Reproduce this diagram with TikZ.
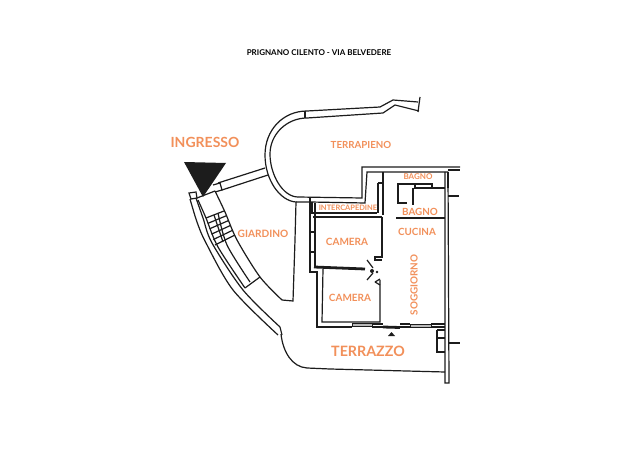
\documentclass[tikz,border=0pt]{standalone}
\usepackage{fontspec}
\setmainfont{Lato}
\definecolor{labelorange}{HTML}{F2905A}
\definecolor{walldark}{HTML}{1C1C1C}
\tikzset{wall/.style = {draw=walldark, line width = .9}}
\tikzset{thick wall/.style = {draw=walldark, line width = 2.1}}
\tikzset{window/.style = {draw=walldark, fill=gray!55, line width = .6}}
\tikzset{room/.style = {text=labelorange, font=\bfseries\fontsize{#1}{#1}\selectfont, inner sep = 0}}
\begin{document}
\begin{tikzpicture}[x=.75pt, y=-.75pt]
          \useasboundingbox [fill=white] (0, 0) rectangle (632, 474);
          \draw [wall] (418, 102) -- (393, 100) -- (380, 107) -- (307, 111)
            .. controls (283, 111) and (265, 130) .. (265, 155)
            .. controls (265, 180) and (280, 201) .. (296, 202) -- (295, 240) -- (293, 301) -- (282, 300);
          \draw [wall] plot [smooth] coordinates {(215, 191) (225, 212) (237, 240) (260, 277) (282, 300)};
          \draw [wall] (419, 111) -- (395, 105) -- (383, 113) -- (307, 118)
            .. controls (287, 118) and (270, 134) .. (270, 154)
            .. controls (270, 175) and (283, 197) .. (298, 197);
          \draw [wall] (420, 97) -- (418, 112);
          \draw [wall] (305, 111) -- (305, 118);
          \draw [wall] (218, 183) -- (265, 168);
          \draw [wall] (222, 190) -- (268, 175);
          \draw [wall] (213, 185) -- (220, 183) -- (222, 190) -- (215, 192);
          \draw [wall] (197, 198) -- (215, 191);
          \draw [wall] (189, 193) -- (196, 192) -- (197, 198) -- (191, 199) -- cycle;
          \draw [wall] plot [smooth] coordinates {(190, 199) (197, 222) (206, 243) (233, 290) (278, 335)};
          \draw [wall] plot [smooth] coordinates {(196, 198) (203, 218) (212, 243) (243, 290) (280, 327)};
          \draw [wall] (280, 327) -- (282, 335);
          \draw [wall] plot [smooth] coordinates {(198, 200) (206, 218) (218, 247) (245, 288)};
          \draw [wall] plot [smooth] coordinates {(218, 213) (227, 245) (250, 282)};
          \draw [wall] (245, 288) -- (260, 277);
          \foreach \t in {0, ..., 5} {
            \draw [wall] (206 + 1.8 * \t, 218 + 5.4 * \t) -- (224 + 2.2 * \t, 211 + 4.8 * \t);
          }
          \draw [wall] (214, 215) -- (223, 242);
          \draw [wall] (281, 334) .. controls (283, 352) and (292, 367) .. (307, 368) -- (330, 369) -- (445, 372);
          \draw [wall] (296, 202) -- (310, 202) -- (365, 203) -- (367, 172) -- (448, 172);
          \draw [wall] (298, 197) -- (362, 198) -- (362, 167) -- (460, 167);
          \draw [wall] (448, 170) -- (460, 170);
          \draw [wall] (310, 197) -- (310, 272) -- (317, 272) -- (317, 327) -- (352, 327);
          \draw [wall] (315, 203) -- (315, 267);
          \draw [wall] (310, 232) -- (315, 232);
          \draw [wall] (310, 252) -- (315, 252);
          \draw [wall] (323, 269) -- (322, 322) -- (380, 322) -- (380, 280);
          \draw [thick wall] (314, 267) -- (365, 269);
          \draw [thick wall] (312, 202) -- (312, 214);
          \draw [thick wall] (313, 217) -- (382, 217);
          \draw [wall] (313, 213) -- (377, 213);
          \draw [wall] (382, 217) -- (382, 257) -- (375, 257) -- (375, 260) -- (382, 260);
          \draw [wall] (375, 282) -- (380, 279);
          \draw [wall] (375, 282) -- (380, 285);
          \draw [wall] (367, 260) -- (373, 268);
          \draw [wall] (367, 280) -- (373, 273);
          \fill [walldark] (372, 271) circle [radius=2];
          \fill [walldark] (377, 272) circle [radius=1.4];
          \draw [wall] (383, 172) -- (383, 215);
          \draw [wall] (378, 183) -- (378, 213);
          \draw [wall] (378, 183) -- (383, 183);
          \draw [thick wall] (398, 184) -- (398, 203) -- (407, 203);
          \draw [wall] (397, 184) -- (432, 184) -- (432, 188) -- (445, 188);
          \draw [wall] (415, 184) -- (415, 188) -- (432, 188);
          \draw [thick wall] (413, 188) -- (413, 205);
          \draw [thick wall] (396, 218) -- (445, 218);
          \draw [wall] (445, 172) -- (445, 383) -- (449, 383) -- (448, 172);
          \draw [thick wall] (448, 172) -- (448, 188);
          \draw [wall] (448, 196) -- (459, 196);
          \draw [wall] (448, 343) -- (460, 343);
          \draw [window] (352, 323) rectangle (372, 326.5);
          \draw [window] (410, 324) rectangle (431, 327);
          \draw [thick wall] (383, 327) -- (400, 327.5);
          \draw [wall] (372, 324) -- (383, 324);
          \draw [wall] (372, 327) -- (383, 327);
          \draw [wall] (400, 324) -- (410, 324);
          \draw [wall] (400, 327) -- (410, 327);
          \draw [wall] (431, 324) -- (445, 324);
          \draw [wall] (431, 327) -- (445, 327);
          \draw [wall] (437, 330) -- (445, 330);
          \draw [wall] (437, 338) -- (445, 338);
          \draw [wall] (437, 330) -- (437, 352);
          \draw [thick wall] (437, 338) -- (437, 352) -- (445, 352);
          \fill [walldark] (388, 336) -- (395, 336) -- (391.5, 332) -- cycle;
          \fill [walldark] (184, 162) -- (226, 163) -- (203, 197) -- cycle;
          \node [room=6, text=black] (title) at (319, 52.5) {PRIGNANO CILENTO - VIA BELVEDERE};
          \node [room=10.5] (ingresso) at (205, 142.5) {INGRESSO};
          \node [room=7.3] (terrapieno) at (361, 145) {TERRAPIENO};
          \node [room=6] (bagnotop) at (418, 177) {BAGNO};
          \node [room=5.6] (intercapedine) at (348, 208) {INTERCAPEDINE};
          \node [room=7.4] (bagno) at (420, 211.5) {BAGNO};
          \node [room=7.4] (cucina) at (417, 232) {CUCINA};
          \node [room=7.6] (giardino) at (263, 234) {GIARDINO};
          \node [room=7.5] (cameraup) at (347, 242) {CAMERA};
          \node [room=7.5] (cameradown) at (350, 297.5) {CAMERA};
          \node [room=7.4, rotate=90] (soggiorno) at (414, 285) {SOGGIORNO};
          \node [room=10.7] (terrazzo) at (368, 351.5) {TERRAZZO};
        \end{tikzpicture}
\end{document}
